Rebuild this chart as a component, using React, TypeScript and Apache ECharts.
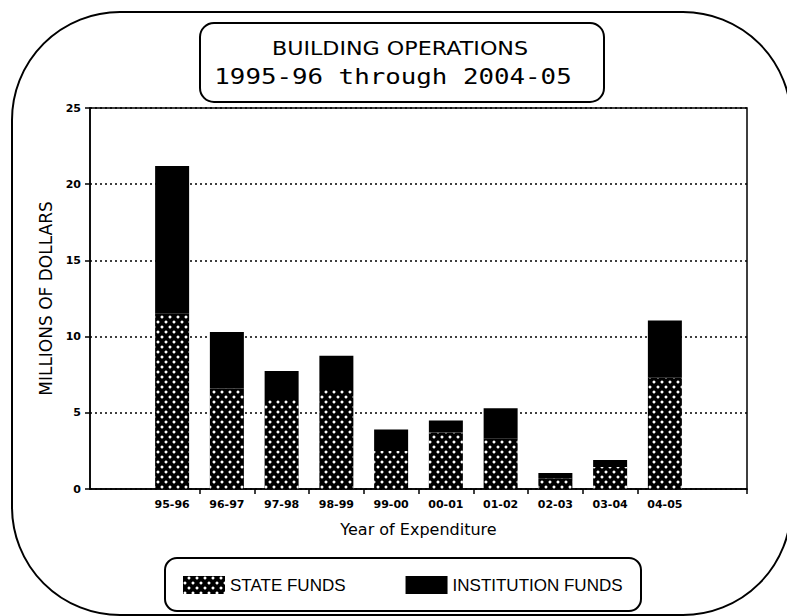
import React, { useEffect, useRef } from "react";
import * as echarts from "echarts";

const categories = ["95-96", "96-97", "97-98", "98-99", "99-00", "00-01", "01-02", "02-03", "03-04", "04-05"];
const stateFunds = [11.5, 6.6, 5.9, 6.5, 2.5, 3.7, 3.3, 0.7, 1.45, 7.3];
const institutionFunds = [9.7, 3.7, 1.85, 2.25, 1.4, 0.8, 2.0, 0.35, 0.45, 3.75];
const yMin = 0;
const yMax = 25;
const yStep = 5;
const titleLine1 = "BUILDING OPERATIONS";
const titleLine2 = "1995-96 through 2004-05";
const xTitle = "Year of Expenditure";
const yTitle = "MILLIONS OF DOLLARS";
const seriesNames = ["STATE FUNDS", "INSTITUTION FUNDS"];

export default function App() {
  const ref = useRef<HTMLDivElement>(null);
  useEffect(() => {
    if (!ref.current) return;
    const chart = echarts.init(ref.current, null, { renderer: "svg" });
    // pad with an empty slot on each side, as the reference axis does
    const cats = ["", ...categories, ""];
    const pad = (a: number[]) => [null, ...a, null];
    const lastTick = cats.length - 2;
    chart.setOption({
      animation: false,
      backgroundColor: "#fff",
      grid: {
        left: 90,
        right: 40,
        top: 108,
        bottom: 127,
        show: true,
        borderColor: "#000",
        borderWidth: 1.5,
      },
      legend: {
        left: 178,
        top: 571,
        itemWidth: 42,
        itemHeight: 18,
        itemGap: 60,
        icon: "rect",
        data: seriesNames,
        textStyle: { fontFamily: "Liberation Sans", fontSize: 17, color: "#000" },
      },
      xAxis: {
        type: "category",
        data: cats,
        boundaryGap: true,
        axisLine: { show: true, lineStyle: { color: "#000", width: 1.5 } },
        axisTick: {
          show: true,
          alignWithLabel: false,
          length: 5,
          lineStyle: { color: "#000", width: 1.5 },
          interval: (i: number) => i >= 2 && i <= lastTick,
        },
        axisLabel: {
          interval: 0,
          margin: 10,
          color: "#000",
          fontFamily: "DejaVu Sans",
          fontWeight: "bold",
          fontSize: 11,
        },
        name: xTitle,
        nameLocation: "middle",
        nameGap: 32,
        nameTextStyle: { fontFamily: "DejaVu Sans", fontSize: 16, color: "#000" },
        splitLine: { show: false },
      },
      yAxis: {
        type: "value",
        min: yMin,
        max: yMax,
        interval: yStep,
        axisLine: { show: true, lineStyle: { color: "#000", width: 1.5 } },
        axisTick: { show: true, length: 5, lineStyle: { color: "#000", width: 1.5 } },
        axisLabel: {
          margin: 9,
          color: "#000",
          fontFamily: "DejaVu Sans",
          fontWeight: "bold",
          fontSize: 11,
        },
        splitLine: { show: true, lineStyle: { color: "#000", type: [2, 3], width: 1.5 } },
        name: yTitle,
        nameLocation: "middle",
        nameGap: 31,
        nameTextStyle: { fontFamily: "DejaVu Sans", fontSize: 17, color: "#000" },
      },
      series: [
        {
          name: seriesNames[0],
          type: "bar",
          stack: "total",
          barWidth: 34,
          data: pad(stateFunds),
          itemStyle: {
            color: "#000",
            decal: {
              symbol: "circle",
              symbolSize: 0.75,
              color: "#fff",
              dashArrayX: [[4, 4], [0, 4, 4, 0]],
              dashArrayY: [3.5, 0.5],
              rotation: 0,
            },
          },
        },
        {
          name: seriesNames[1],
          type: "bar",
          stack: "total",
          barWidth: 34,
          data: pad(institutionFunds),
          itemStyle: { color: "#000" },
        },
      ],
      graphic: [
        {
          type: "rect",
          shape: { x: 12, y: 12, width: 779, height: 603, r: 108 },
          style: { fill: "none", stroke: "#000", lineWidth: 2 },
          silent: true,
        },
        {
          type: "rect",
          shape: { x: 200, y: 23, width: 404, height: 79, r: 14 },
          style: { fill: "none", stroke: "#000", lineWidth: 2 },
          silent: true,
        },
        {
          type: "text",
          x: 400,
          y: 49,
          scaleX: 1.17,
          style: {
            text: titleLine1,
            fontFamily: "DejaVu Sans",
            fontSize: 19,
            fill: "#000",
            textAlign: "center",
            textVerticalAlign: "middle",
          },
        },
        {
          type: "text",
          x: 393,
          y: 77,
          scaleX: 1.26,
          style: {
            text: titleLine2,
            fontFamily: "DejaVu Sans Mono",
            fontSize: 20.5,
            fill: "#000",
            textAlign: "center",
            textVerticalAlign: "middle",
          },
        },
        {
          type: "rect",
          shape: { x: 165, y: 558, width: 476, height: 53, r: 12 },
          style: { fill: "none", stroke: "#000", lineWidth: 2 },
          silent: true,
        },
      ],
    });
    return () => chart.dispose();
  }, []);
  return <div ref={ref} style={{ position: "fixed", left: 0, top: 0, width: 787, height: 616 }} />;
}
